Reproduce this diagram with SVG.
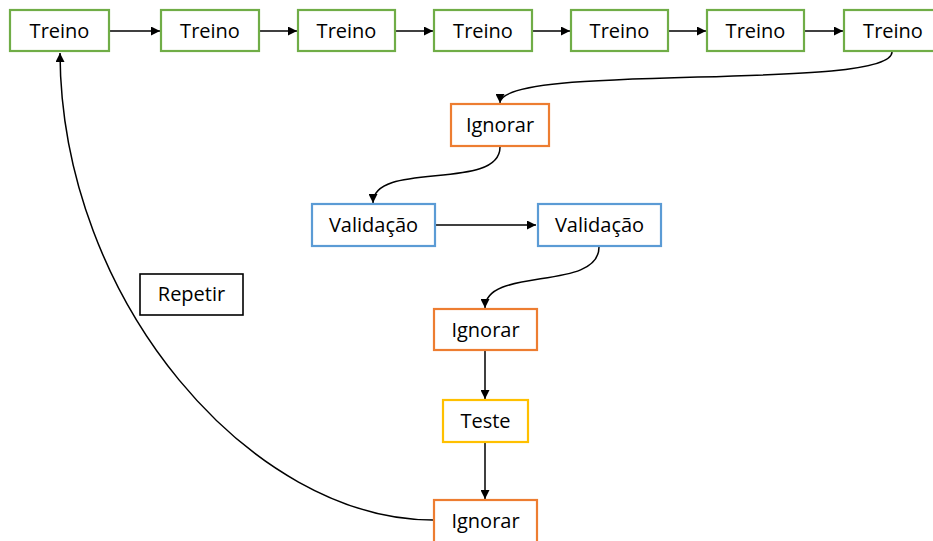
<svg xmlns="http://www.w3.org/2000/svg" width="933" height="541" viewBox="0 0 933 541">
  <style>
    .box { fill: #ffffff; stroke-width: 2.2; }
    .train { stroke: #70AD47; }
    .skip { stroke: #ED7D31; }
    .val { stroke: #5B9BD5; }
    .test { stroke: #FFC000; }
    .plain { stroke: #000000; stroke-width: 1.6; }
    .lbl { font-family: "Open Sans", "Noto Sans", sans-serif; font-size: 20px; fill: #000000; text-anchor: middle; }
    .conn { fill: none; stroke: #000000; stroke-width: 1.5; }
  </style>
  <defs>
    <marker id="arrow" viewBox="0 0 10 10" refX="10" refY="5" markerWidth="11" markerHeight="9" markerUnits="userSpaceOnUse" orient="auto">
      <path d="M0,0 L10,5 L0,10 Z" fill="#000000"/>
    </marker>
  </defs>

  <rect width="933" height="541" fill="#ffffff"/>

  <!-- connectors -->
  <g id="connectors">
    <line class="conn" x1="110" y1="31" x2="160" y2="31" marker-end="url(#arrow)"/>
    <line class="conn" x1="260" y1="31" x2="297" y2="31" marker-end="url(#arrow)"/>
    <line class="conn" x1="396" y1="31" x2="433" y2="31" marker-end="url(#arrow)"/>
    <line class="conn" x1="533" y1="31" x2="570" y2="31" marker-end="url(#arrow)"/>
    <line class="conn" x1="668" y1="31" x2="706" y2="31" marker-end="url(#arrow)"/>
    <line class="conn" x1="805" y1="31" x2="843" y2="31" marker-end="url(#arrow)"/>
    <path class="conn" d="M892,52 C892,92 500,62 500,103" marker-end="url(#arrow)"/>
    <path class="conn" d="M500,147 C500,192 373,160 373,203" marker-end="url(#arrow)"/>
    <line class="conn" x1="436" y1="225" x2="536" y2="225" marker-end="url(#arrow)"/>
    <path class="conn" d="M599,247 C599,292 485,266 485,308" marker-end="url(#arrow)"/>
    <line class="conn" x1="485" y1="351" x2="485" y2="399" marker-end="url(#arrow)"/>
    <line class="conn" x1="485" y1="443" x2="485" y2="499" marker-end="url(#arrow)"/>
    <path class="conn" d="M433,520 C252,520 61,302 60,53" marker-end="url(#arrow)"/>
  </g>

  <!-- training nodes -->
  <g id="treino1"><rect class="box train" x="10" y="10" width="99" height="41"/><text class="lbl" x="59.5" y="38">Treino</text></g>
  <g id="treino2"><rect class="box train" x="161" y="10" width="98" height="41"/><text class="lbl" x="210" y="38">Treino</text></g>
  <g id="treino3"><rect class="box train" x="298" y="10" width="97" height="41"/><text class="lbl" x="346.5" y="38">Treino</text></g>
  <g id="treino4"><rect class="box train" x="434" y="10" width="98" height="41"/><text class="lbl" x="483" y="38">Treino</text></g>
  <g id="treino5"><rect class="box train" x="571" y="10" width="97" height="41"/><text class="lbl" x="619.5" y="38">Treino</text></g>
  <g id="treino6"><rect class="box train" x="707" y="10" width="97" height="41"/><text class="lbl" x="755.5" y="38">Treino</text></g>
  <g id="treino7"><rect class="box train" x="844" y="10" width="98" height="41"/><text class="lbl" x="893" y="38">Treino</text></g>

  <!-- gap / validation / test nodes -->
  <g id="ignorar1"><rect class="box skip" x="451" y="104" width="98" height="42"/><text class="lbl" x="500" y="132">Ignorar</text></g>
  <g id="validacao1"><rect class="box val" x="312" y="204" width="123" height="42"/><text class="lbl" x="373.5" y="232">Validação</text></g>
  <g id="validacao2"><rect class="box val" x="538" y="204" width="123" height="42"/><text class="lbl" x="599.5" y="232">Validação</text></g>
  <g id="ignorar2"><rect class="box skip" x="434" y="309" width="103" height="41"/><text class="lbl" x="485.5" y="336.5">Ignorar</text></g>
  <g id="teste"><rect class="box test" x="443" y="400" width="85" height="42"/><text class="lbl" x="485.5" y="428">Teste</text></g>
  <g id="ignorar3"><rect class="box skip" x="434" y="500" width="103" height="48"/><text class="lbl" x="485.5" y="528">Ignorar</text></g>

  <!-- loop label -->
  <g id="repetir"><rect class="box plain" x="140" y="274" width="103" height="41"/><text class="lbl" x="191.5" y="301">Repetir</text></g>
</svg>
